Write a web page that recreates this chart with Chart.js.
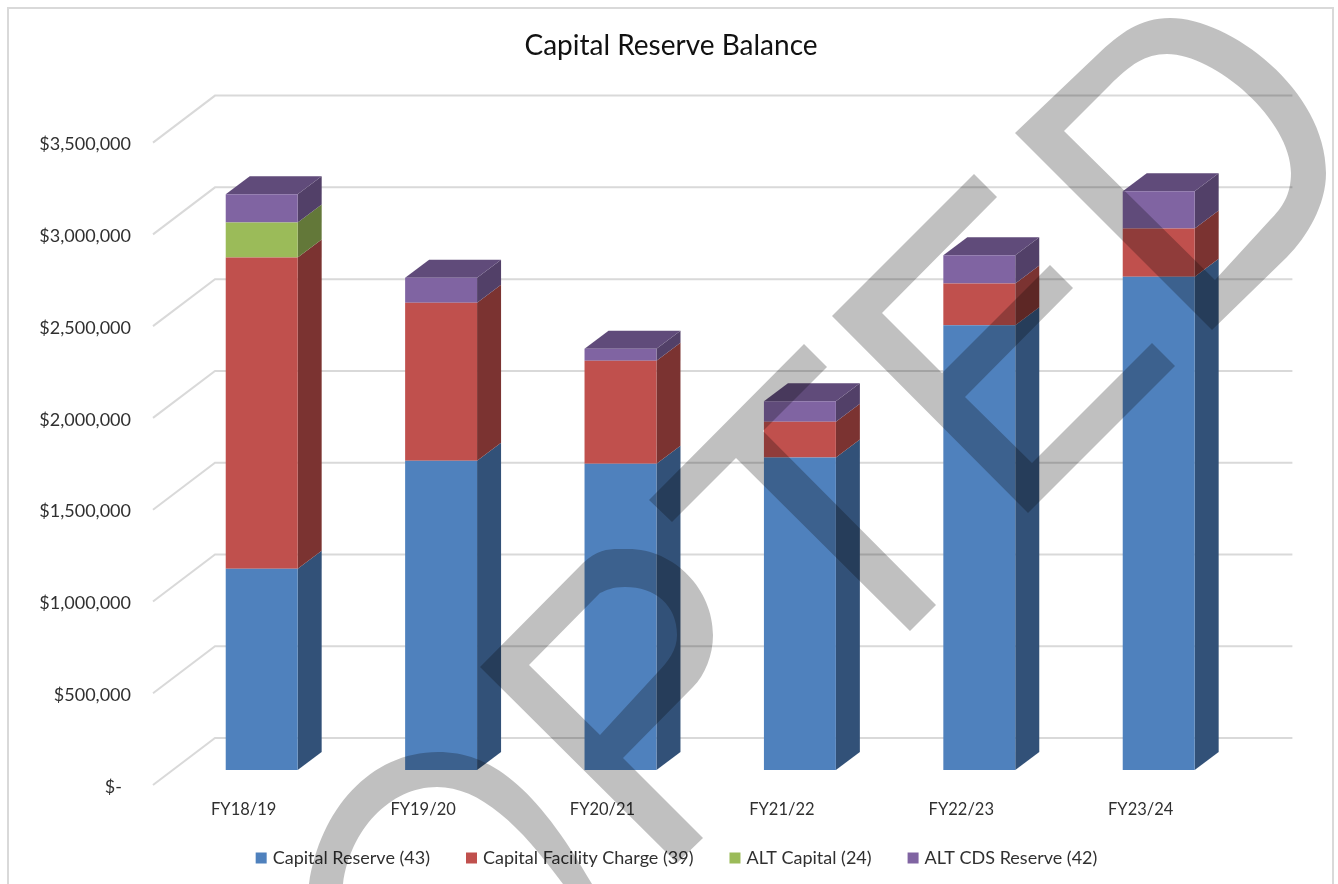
<!DOCTYPE html>
<html>
<head>
<meta charset="utf-8">
<title>Capital Reserve Balance</title>
<script src="https://cdn.jsdelivr.net/npm/chart.js@4/dist/chart.umd.min.js"></script>
<style>
  html, body { margin: 0; padding: 0; background: #fff; }
  canvas { display: block; }
</style>
</head>
<body>
<canvas id="chart" width="1338" height="884"></canvas>
<script>
const categories = ["FY18/19", "FY19/20", "FY20/21", "FY21/22", "FY22/23", "FY23/24"];
const capitalReserve = [1096000, 1685000, 1668000, 1703000, 2423000, 2688000];
const capitalFacilityCharge = [1696000, 861000, 562000, 195000, 227000, 262000];
const altCapital = [191000, 0, 0, 0, 0, 0];
const altCdsReserve = [154000, 136000, 65000, 111000, 154000, 203000];

const fontName = "Lato, 'Open Sans', sans-serif";
const textColor = "#303030";
const gridColor = "#d9d9d9";

// side face colours, same order as the datasets
const sideColors = ["#325178", "#7b3331", "#637839", "#524068"];
const topColor = "#604b7a";

// depth of the bars and of the floor, in pixels
const barDepthX = 24, barDepthY = 18;

// frame, gridlines and the side/top faces of the bars
const depthPlugin = {
  id: "depth",
  beforeDraw(chart) {
    const ctx = chart.ctx;
    ctx.save();
    ctx.fillStyle = "#fff";
    ctx.fillRect(0, 0, chart.width, chart.height);
    ctx.strokeStyle = gridColor;
    ctx.lineWidth = 2;
    ctx.beginPath();
    ctx.moveTo(8, 890);
    ctx.lineTo(8, 8);
    ctx.lineTo(1333, 8);
    ctx.lineTo(1333, 890);
    ctx.stroke();
    ctx.restore();
  },
  beforeDatasetsDraw(chart) {
    const ctx = chart.ctx;
    const yScale = chart.scales.y;
    const area = chart.chartArea;
    ctx.save();
    ctx.strokeStyle = gridColor;
    ctx.lineWidth = 2;
    yScale.ticks.forEach(t => {
      const y = yScale.getPixelForValue(t.value);
      ctx.beginPath();
      ctx.moveTo(area.left - 19, y + 15);
      ctx.lineTo(area.left + 43, y - 32);
      ctx.lineTo(area.right + 44, y - 32);
      ctx.stroke();
    });

    categories.forEach((c, j) => {
      let topBar = null;
      chart.data.datasets.forEach((ds, i) => {
        const bar = chart.getDatasetMeta(i).data[j];
        if (ds.data[j] === 0) return;
        const right = bar.x + bar.width / 2;
        ctx.fillStyle = sideColors[i];
        ctx.beginPath();
        ctx.moveTo(right, bar.y);
        ctx.lineTo(right + barDepthX, bar.y - barDepthY);
        ctx.lineTo(right + barDepthX, bar.base - barDepthY);
        ctx.lineTo(right, bar.base);
        ctx.closePath();
        ctx.fill();
        topBar = bar;
      });
      const left = topBar.x - topBar.width / 2;
      const right = topBar.x + topBar.width / 2;
      ctx.fillStyle = topColor;
      ctx.beginPath();
      ctx.moveTo(left, topBar.y);
      ctx.lineTo(left + barDepthX, topBar.y - barDepthY);
      ctx.lineTo(right + barDepthX, topBar.y - barDepthY);
      ctx.lineTo(right, topBar.y);
      ctx.closePath();
      ctx.fill();
    });
    ctx.restore();
  },
  afterLayout(chart) {
    // title and legend are not centred on the canvas in the original
    chart.titleBlock.left = 0;
    chart.titleBlock.right = 1342;
    chart.legend.left = 0;
    chart.legend.right = 1356;
    chart.legend.top -= 7;
    chart.legend.bottom -= 7;
    // labels are clipped to the axis box, let it reach below them
    chart.scales.x.bottom += 10;
  }
};

// grey stamp lying over the whole picture
const stampPaths = [
  "M309 884 C320 810 370 752 438 752 C490 752 535 785 592 884 L563 884 C520 825 480 787 437 787 C390 787 350 830 343 884 Z",
  "M480 667 L583 563 C600 547 612 549 628 549 C675 549 713 590 713 635 C713 655 705 675 693 687 L623 758 L703 838 L677 863 Z " +
    "M529 665 L600 593 C607 590 612 587 625 587 C655 587 677 605 677 635 C677 650 668 662 657 673 L600 735 Z",
  "M649 500 L804 344 L827 367 L763 431 L936 605 L910 631 L736 458 L672 522 Z",
  "M832 316 L974 174 L997 197 L882 313 L942 373 L1050 265 L1073 288 L965 397 L1032 463 L1152 343 L1175 366 L1028 513 Z",
  "M1015 133 L1097 55 C1120 33 1140 18 1170 18 C1230 18 1326 90 1326 173 C1326 205 1307 237 1287 257 L1212 330 Z " +
    "M1064 131 L1110 85 C1130 65 1145 54 1167 54 C1215 54 1291 120 1291 173 C1291 195 1282 208 1270 220 L1215 280 Z"
];

const stampPlugin = {
  id: "stamp",
  afterDraw(chart) {
    const ctx = chart.ctx;
    ctx.save();
    ctx.globalCompositeOperation = "multiply";
    ctx.fillStyle = "#c0c0c0";
    stampPaths.forEach(p => ctx.fill(new Path2D(p), "evenodd"));
    ctx.restore();
  }
};

function series(label, data, color) {
  return { label: label, data: data, backgroundColor: color, borderWidth: 0 };
}

new Chart(document.getElementById("chart").getContext("2d"), {
  type: "bar",
  data: {
    labels: categories,
    datasets: [
      series("Capital Reserve (43)", capitalReserve, "#4f81bd"),
      series("Capital Facility Charge (39)", capitalFacilityCharge, "#c0504d"),
      series("ALT Capital (24)", altCapital, "#9bbb59"),
      series("ALT CDS Reserve (42)", altCdsReserve, "#8064a2")
    ]
  },
  plugins: [depthPlugin, stampPlugin],
  options: {
    responsive: false,
    animation: false,
    layout: { padding: { left: 0, right: 89.6, top: 0, bottom: 0 } },
    datasets: { bar: { barPercentage: 0.401, categoryPercentage: 1 } },
    scales: {
      x: {
        stacked: true,
        grid: { display: false },
        border: { display: false },
        ticks: {
          color: textColor,
          font: { family: fontName, size: 16.5 },
          padding: 22,
          labelOffset: -18,
          maxRotation: 0,
          autoSkip: false
        },
        afterFit(scale) { scale.height = 47; }
      },
      y: {
        stacked: true,
        min: 0,
        max: 3500000,
        grid: { display: false },
        border: { display: false },
        ticks: {
          stepSize: 500000,
          color: textColor,
          font: { family: fontName, size: 18 },
          padding: 33,
          labelOffset: 17,
          callback: function (value) {
            return value === 0 ? "$-\u2002" : "$" + value.toLocaleString("en-US");
          }
        },
        afterFit(scale) { scale.width = 172; }
      }
    },
    plugins: {
      title: {
        display: true,
        text: "Capital Reserve Balance",
        color: "#111",
        font: { family: fontName, size: 28, weight: "normal" },
        padding: { top: 29, bottom: 65 }
      },
      legend: {
        position: "bottom",
        labels: {
          color: textColor,
          font: { family: fontName, size: 18 },
          boxWidth: 5,
          boxHeight: 5,
          padding: 39,
          generateLabels(chart) {
            // thick outline makes the swatch square and keeps it close to the text
            return Chart.defaults.plugins.legend.labels.generateLabels(chart).map(item => ({
              ...item,
              lineWidth: 6,
              strokeStyle: item.fillStyle
            }));
          }
        }
      },
      tooltip: { enabled: false }
    }
  }
});
</script>
</body>
</html>
